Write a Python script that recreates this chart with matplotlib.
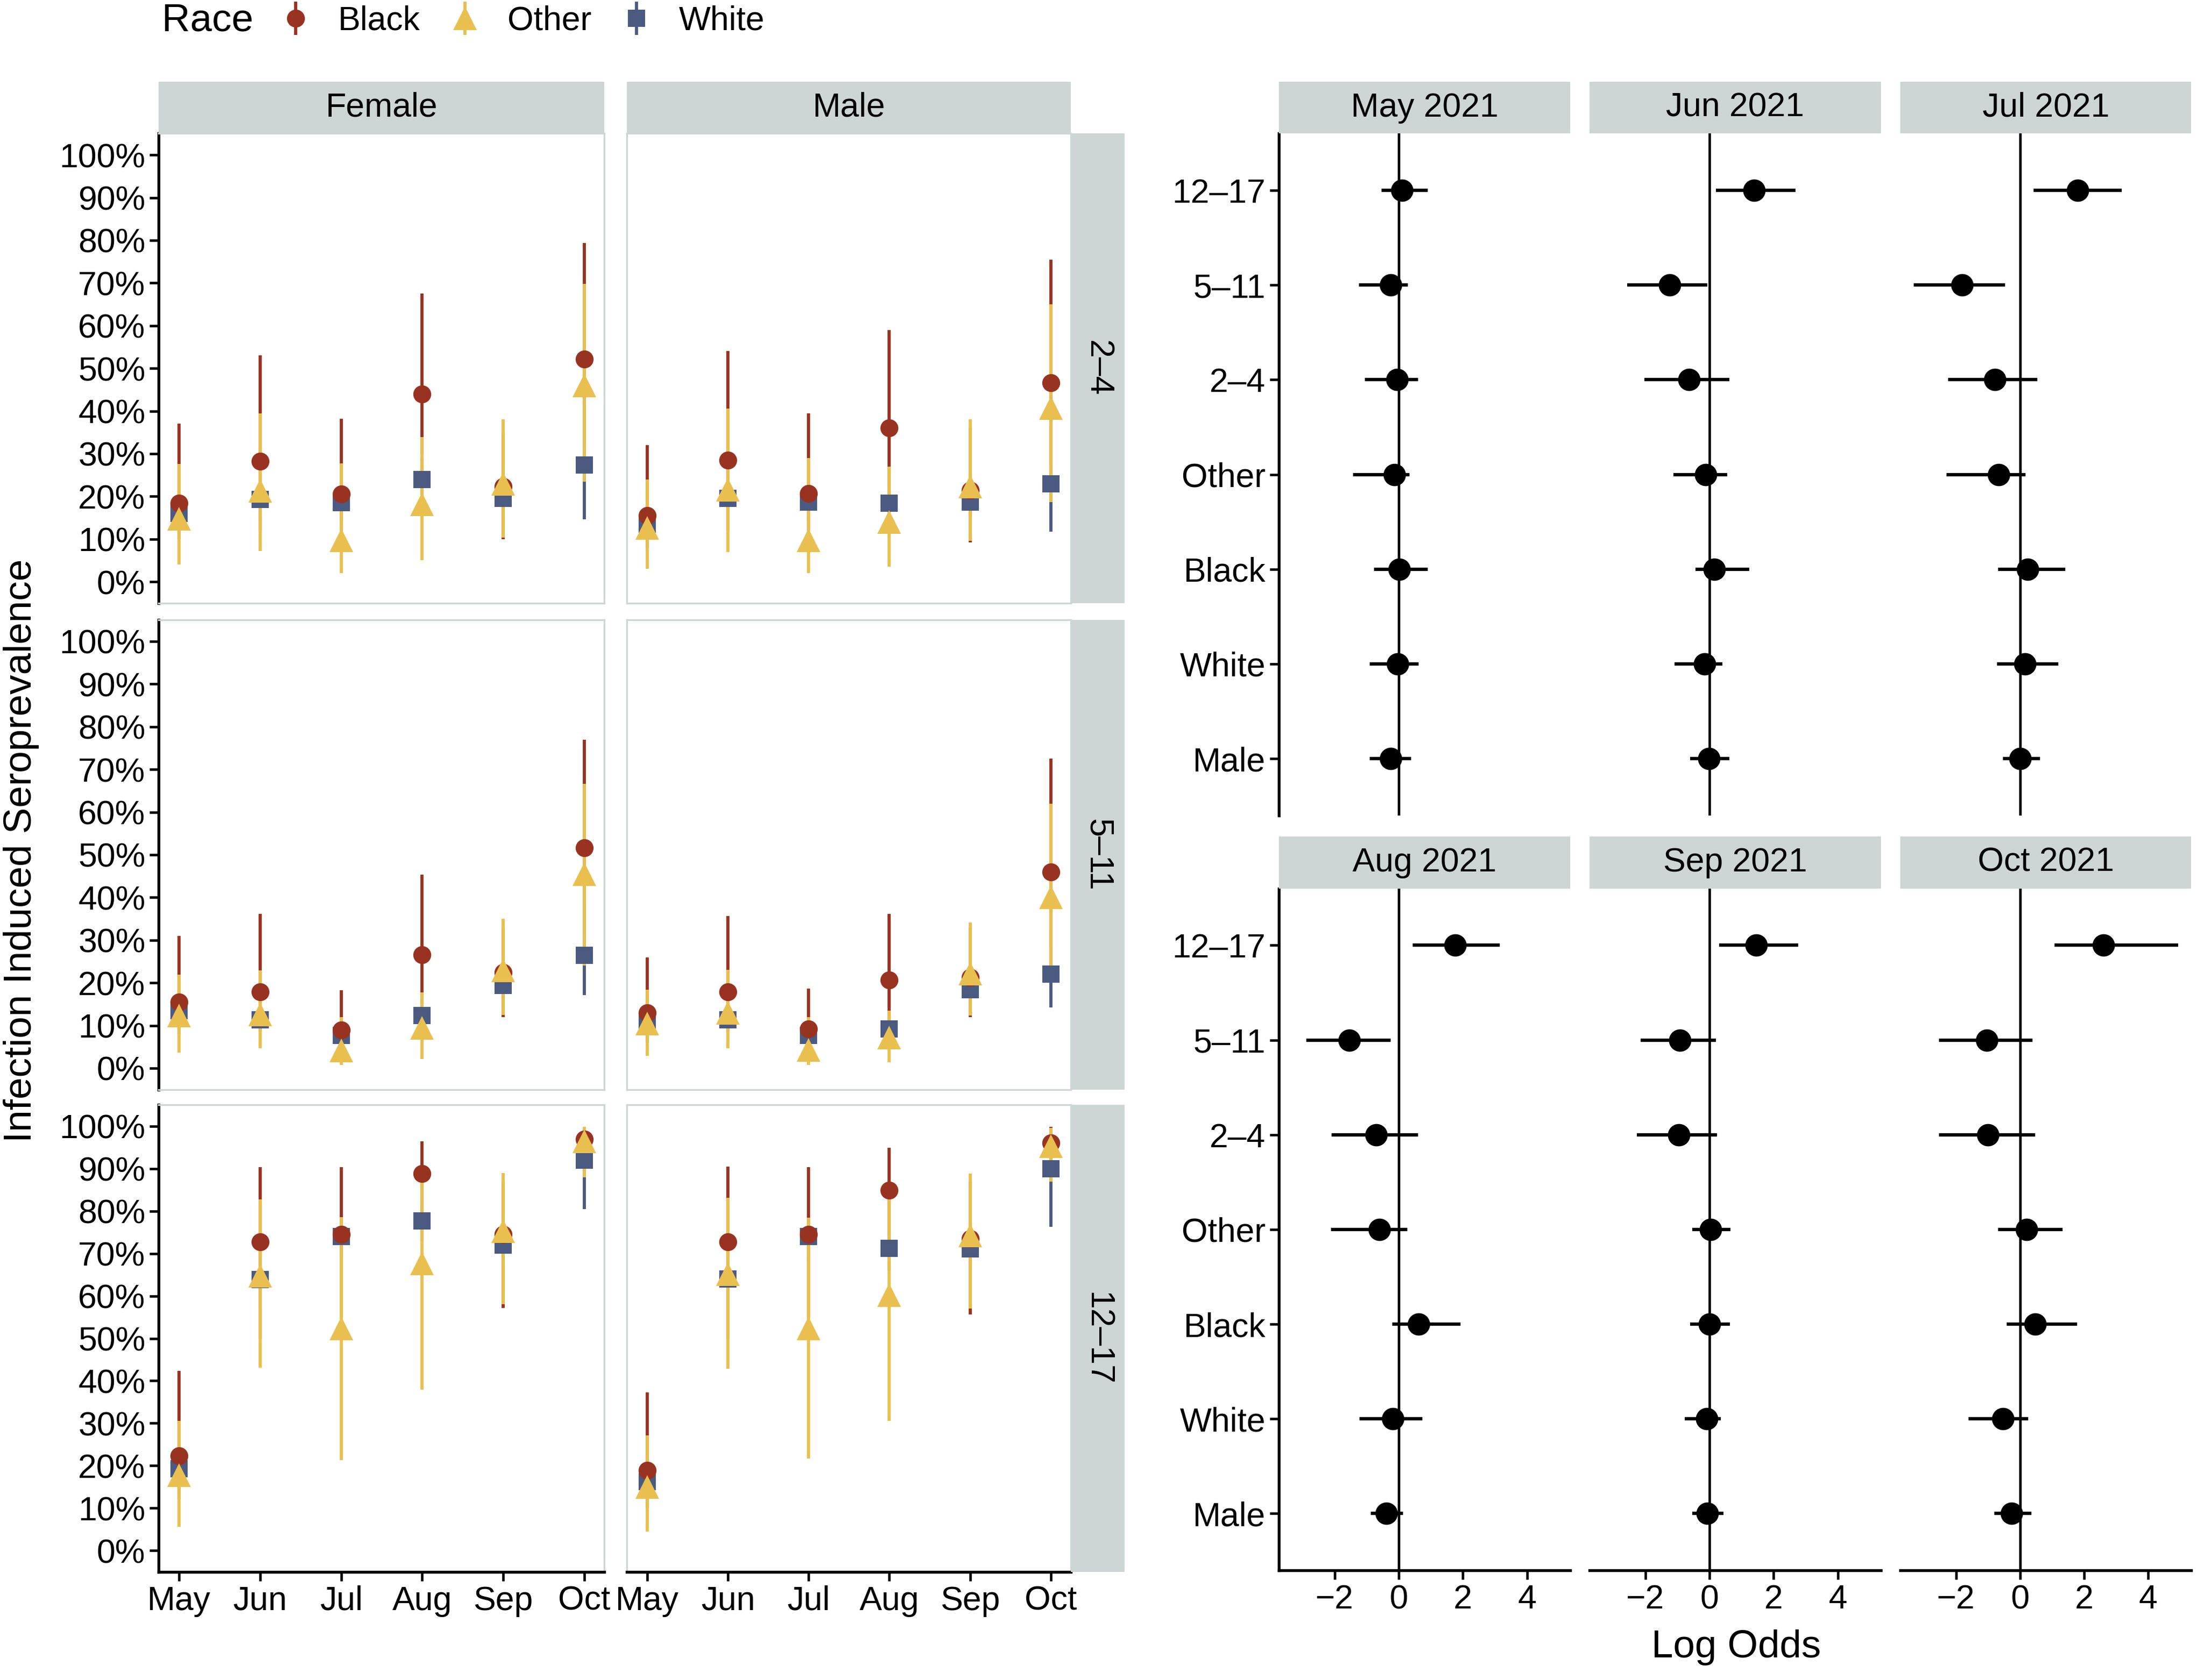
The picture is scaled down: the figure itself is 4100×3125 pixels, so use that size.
import numpy as np
import matplotlib
matplotlib.use("Agg")
import matplotlib.pyplot as plt
from matplotlib.lines import Line2D
from matplotlib.legend_handler import HandlerTuple

plt.rcParams["font.family"] = ["Liberation Sans", "DejaVu Sans"]

# ── Data: seroprevalence (%) by month ─────────────────────────
months = ["May", "Jun", "Jul", "Aug", "Sep", "Oct"]
races = ["Black", "Other", "White"]
sexes = ["Female", "Male"]
age_groups = ["2–4", "5–11", "12–17"]

# each list: [estimate], [lower], [upper]
f24_black = [[18.4, 28.2, 20.5, 44.0, 22.3, 52.1],
             [10.0, 12.0, 12.0, 30.0, 10.0, 32.0],
             [37.0, 53.0, 38.2, 67.5, 35.0, 79.3]]
f24_other = [[14.8, 21.3, 9.7, 18.2, 23.0, 46.0],
             [4.0, 7.2, 2.0, 5.0, 10.4, 23.4],
             [27.6, 39.4, 27.7, 33.9, 38.0, 69.8]]
f24_white = [[16.0, 19.3, 18.5, 24.0, 19.5, 27.4],
             [12.0, 15.0, 14.0, 19.0, 15.5, 14.6],
             [21.0, 24.0, 23.0, 29.0, 24.0, 42.0]]

m24_black = [[15.5, 28.5, 20.7, 36.1, 21.4, 46.6],
             [8.0, 12.0, 12.0, 22.0, 9.2, 27.0],
             [32.0, 54.0, 39.4, 59.0, 36.0, 75.4]]
m24_other = [[12.6, 21.6, 9.7, 14.0, 22.3, 40.7],
             [3.1, 7.0, 2.0, 3.6, 9.6, 18.7],
             [24.0, 40.6, 29.0, 27.0, 38.0, 65.0]]
m24_white = [[13.5, 19.6, 18.7, 18.4, 18.6, 22.9],
             [10.0, 16.0, 15.0, 15.0, 15.0, 11.7],
             [17.5, 23.5, 22.5, 22.0, 22.5, 36.0]]

f511_black = [[15.5, 17.9, 8.9, 26.6, 22.4, 51.6],
              [8.0, 9.0, 4.0, 15.0, 12.0, 32.0],
              [31.0, 36.1, 18.2, 45.3, 33.0, 76.9]]
f511_other = [[12.3, 12.6, 4.2, 9.4, 22.9, 45.5],
              [3.6, 4.7, 0.7, 2.2, 12.5, 24.0],
              [21.9, 22.9, 12.0, 17.7, 35.0, 66.6]]
f511_white = [[13.5, 11.3, 7.7, 12.3, 19.4, 26.4],
              [10.5, 8.5, 5.5, 9.5, 16.0, 17.1],
              [17.0, 14.5, 10.5, 15.5, 23.0, 38.0]]

m511_black = [[13.0, 17.9, 9.2, 20.6, 21.3, 46.0],
              [6.0, 9.0, 4.0, 11.0, 11.9, 28.0],
              [26.0, 35.6, 18.6, 36.1, 33.0, 72.6]]
m511_other = [[10.5, 13.0, 4.3, 7.2, 22.2, 40.1],
              [2.9, 4.7, 0.7, 1.4, 12.3, 20.0],
              [18.4, 23.0, 12.0, 13.5, 34.1, 61.9]]
m511_white = [[11.2, 11.3, 7.7, 9.2, 18.4, 22.0],
              [8.5, 8.5, 5.5, 6.8, 15.5, 14.2],
              [14.5, 14.5, 10.5, 12.0, 22.0, 32.0]]

f1217_black = [[22.3, 72.7, 74.5, 88.8, 74.5, 96.9],
               [12.0, 50.0, 55.0, 78.0, 57.2, 92.0],
               [42.3, 90.4, 90.4, 96.5, 87.0, 99.3]]
f1217_other = [[17.8, 64.8, 52.4, 67.7, 75.3, 96.4],
               [5.6, 43.1, 21.3, 37.9, 58.0, 88.0],
               [30.5, 82.7, 78.6, 87.0, 89.0, 99.8]]
f1217_white = [[19.3, 63.9, 74.0, 77.7, 72.0, 92.0],
               [14.0, 57.0, 69.0, 73.0, 67.0, 80.5],
               [25.0, 70.0, 79.0, 82.0, 77.0, 96.0]]

m1217_black = [[18.9, 72.7, 74.5, 84.9, 73.5, 96.0],
               [10.0, 50.0, 55.0, 72.0, 55.7, 90.0],
               [37.3, 90.5, 90.4, 94.9, 87.0, 99.8]]
m1217_other = [[15.0, 65.1, 52.4, 60.2, 74.3, 95.3],
               [4.4, 42.8, 21.7, 30.5, 57.0, 87.0],
               [27.1, 83.1, 78.5, 86.0, 88.8, 99.6]]
m1217_white = [[16.3, 64.0, 74.0, 71.2, 71.1, 90.0],
               [11.5, 57.0, 69.0, 66.0, 66.0, 76.3],
               [22.0, 70.5, 79.0, 76.0, 76.0, 95.0]]

# ── Data: log odds by model month ─────────────────────────────
terms = ["12–17", "5–11", "2–4", "Other", "Black", "White", "Male"]
model_months = ["May 2021", "Jun 2021", "Jul 2021", "Aug 2021", "Sep 2021", "Oct 2021"]

may_est = [0.10, -0.26, -0.06, -0.13, 0.02, -0.04, -0.26]
may_lo = [-0.54, -1.24, -1.05, -1.43, -0.77, -0.90, -0.90]
may_hi = [0.90, 0.28, 0.60, 0.34, 0.90, 0.62, 0.39]

jun_est = [1.39, -1.24, -0.64, -0.11, 0.15, -0.15, -0.02]
jun_lo = [0.21, -2.57, -2.03, -1.13, -0.43, -1.09, -0.60]
jun_hi = [2.68, -0.06, 0.62, 0.56, 1.24, 0.41, 0.62]

jul_est = [1.80, -1.80, -0.79, -0.66, 0.24, 0.15, 0.00]
jul_lo = [0.43, -3.32, -2.25, -2.29, -0.69, -0.71, -0.54]
jul_hi = [3.17, -0.47, 0.54, 0.17, 1.41, 1.20, 0.62]

aug_est = [1.76, -1.54, -0.71, -0.60, 0.62, -0.19, -0.39]
aug_lo = [0.43, -2.89, -2.10, -2.12, -0.21, -1.22, -0.88]
aug_hi = [3.15, -0.26, 0.60, 0.26, 1.93, 0.73, 0.13]

sep_est = [1.46, -0.92, -0.96, 0.04, 0.00, -0.09, -0.06]
sep_lo = [0.30, -2.14, -2.27, -0.54, -0.60, -0.77, -0.54]
sep_hi = [2.76, 0.21, 0.24, 0.66, 0.64, 0.36, 0.43]

oct_est = [2.61, -1.03, -1.01, 0.21, 0.47, -0.54, -0.26]
oct_lo = [1.07, -2.53, -2.53, -0.69, -0.41, -1.61, -0.81]
oct_hi = [4.93, 0.39, 0.47, 1.33, 1.78, 0.26, 0.36]

# ── Style ─────────────────────────────────────────────────────
race_colors = {"Black": "#983321", "Other": "#E9C050", "White": "#4B5A80"}
race_markers = {"Black": ("o", 8), "Other": ("^", 10.5), "White": ("s", 7.5)}
STRIP = "#CDD6D4"
BORDER = "#CDD6D4"
TICK_FS = 15
TITLE_FS = 17.5

W, H = 1568, 1195  # layout grid (reference pixels)


def rect(x0, y0, x1, y1):
    return [x0 / W, 1 - y1 / H, (x1 - x0) / W, (y1 - y0) / H]


def strip(fig, box, label, rotation=0):
    sax = fig.add_axes(rect(*box))
    sax.set_facecolor(STRIP)
    for s in sax.spines.values():
        s.set_visible(False)
    sax.set_xticks([])
    sax.set_yticks([])
    sax.text(0.5, 0.5, label, ha="center", va="center", rotation=rotation,
             fontsize=TICK_FS, transform=sax.transAxes)


fig = plt.figure(figsize=(4100 / 300, 3125 / 300), dpi=300)

# ── Left: seroprevalence facets ───────────────────────────────
panels = {
    ("2–4", "Female"): {"Black": f24_black, "Other": f24_other, "White": f24_white},
    ("2–4", "Male"): {"Black": m24_black, "Other": m24_other, "White": m24_white},
    ("5–11", "Female"): {"Black": f511_black, "Other": f511_other, "White": f511_white},
    ("5–11", "Male"): {"Black": m511_black, "Other": m511_other, "White": m511_white},
    ("12–17", "Female"): {"Black": f1217_black, "Other": f1217_other, "White": f1217_white},
    ("12–17", "Male"): {"Black": m1217_black, "Other": m1217_other, "White": m1217_white},
}

left_cols = [(113, 430), (446, 762)]
left_rows = [(95, 429), (441, 775), (786, 1118)]
draw_order = ["White", "Black", "Other"]
xm = np.arange(len(months))

for r, age in enumerate(age_groups):
    for c, sex in enumerate(sexes):
        x0, x1 = left_cols[c]
        y0, y1 = left_rows[r]
        ax = fig.add_axes(rect(x0, y0, x1, y1))
        data = panels[(age, sex)]
        for race in draw_order:
            est, lo, hi = data[race]
            ax.vlines(xm, lo, hi, color=race_colors[race], lw=1.4, zorder=2)
        for race in draw_order:
            est, lo, hi = data[race]
            mk, ms = race_markers[race]
            ax.plot(xm, est, ls="none", marker=mk, ms=ms, color=race_colors[race],
                    mec="none", zorder=3)
        ax.set_xlim(-0.25, 5.25)
        ax.set_ylim(-5, 105)
        ax.set_yticks(np.arange(0, 101, 10))
        ax.set_yticklabels([f"{v}%" for v in range(0, 101, 10)])
        ax.set_xticks(xm)
        ax.set_xticklabels(months)
        for s in ax.spines.values():
            s.set_color(BORDER)
            s.set_linewidth(0.8)
        ax.tick_params(direction="out", length=4, width=1.1, labelsize=TICK_FS, pad=2)
        if c == 0:
            ax.spines["left"].set_color("black")
            ax.spines["left"].set_linewidth(1.3)
        else:
            ax.tick_params(left=False, labelleft=False)
        if r == 2:
            ax.spines["bottom"].set_color("black")
            ax.spines["bottom"].set_linewidth(1.3)
        else:
            ax.tick_params(bottom=False, labelbottom=False)
        if r == 0:
            strip(fig, (x0, 58, x1, 95), sex)
    strip(fig, (762, left_rows[r][0], 800, left_rows[r][1]), age, rotation=270)

fig.text(15 / W, 1 - 605 / H, "Infection Induced Seroprevalence", rotation=90,
         ha="center", va="center", fontsize=TITLE_FS)

# ── Right: log odds forest plots ──────────────────────────────
forest = [(may_est, may_lo, may_hi), (jun_est, jun_lo, jun_hi), (jul_est, jul_lo, jul_hi),
          (aug_est, aug_lo, aug_hi), (sep_est, sep_lo, sep_hi), (oct_est, oct_lo, oct_hi)]

all_lo = min(min(f[1]) for f in forest)
all_hi = max(max(f[2]) for f in forest)
pad = 0.05 * (all_hi - all_lo)
xlim = (all_lo - pad, all_hi + pad)

right_cols = [(910, 1117), (1131, 1338), (1352, 1559)]
right_rows = [(95, 580), (632, 1117)]
ypos = np.arange(len(terms))[::-1]

for i, (est, lo, hi) in enumerate(forest):
    r, c = divmod(i, 3)
    x0, x1 = right_cols[c]
    y0, y1 = right_rows[r]
    ax = fig.add_axes(rect(x0, y0, x1, y1))
    ax.axvline(0, color="black", lw=1.1, zorder=1)
    ax.hlines(ypos, lo, hi, color="black", lw=1.5, zorder=2)
    ax.plot(est, ypos, ls="none", marker="o", ms=9, color="black", zorder=3)
    ax.set_xlim(*xlim)
    ax.set_ylim(-0.6, len(terms) - 0.4)
    ax.set_yticks(ypos)
    ax.set_yticklabels(terms)
    ax.set_xticks([-2, 0, 2, 4])
    for s in ax.spines.values():
        s.set_visible(False)
    ax.tick_params(direction="out", length=4, width=1.1, labelsize=TICK_FS, pad=2)
    if c == 0:
        ax.spines["left"].set_visible(True)
        ax.spines["left"].set_linewidth(1.3)
    else:
        ax.tick_params(left=False, labelleft=False)
    if r == 1:
        ax.spines["bottom"].set_visible(True)
        ax.spines["bottom"].set_linewidth(1.3)
    else:
        ax.tick_params(bottom=False, labelbottom=False)
    strip(fig, (x0, y0 - 37, x1, y0), model_months[i])

fig.text(1235 / W, 1 - 1172 / H, "Log Odds", ha="center", va="center", fontsize=TITLE_FS)

# ── Legend ────────────────────────────────────────────────────
handles = []
for race in races:
    mk, ms = race_markers[race]
    bar = Line2D([], [], ls="none", marker="|", ms=15, mew=1.4, color=race_colors[race])
    pt = Line2D([], [], ls="none", marker=mk, ms=ms, mec="none", color=race_colors[race])
    handles.append((bar, pt))

fig.text(115 / W, 1 - 15 / H, "Race", ha="left", va="center", fontsize=TITLE_FS)
fig.legend(handles, races, handler_map={tuple: HandlerTuple(ndivide=1, pad=0)},
           loc="center left", bbox_to_anchor=(196 / W, 1 - 15 / H), ncol=3,
           frameon=False, fontsize=TICK_FS, handlelength=1.2, handletextpad=0.66,
           columnspacing=0.74, borderaxespad=0, borderpad=0)

fig.savefig("out.png", dpi=300)
